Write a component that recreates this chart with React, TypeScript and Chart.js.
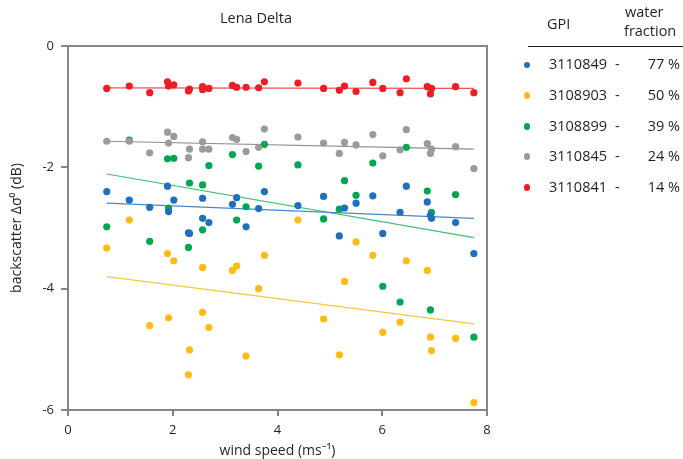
import React, { useEffect, useRef } from "react";
import { Chart, registerables } from "chart.js";

Chart.register(...registerables);

// wind speed (m/s) shared by all GPIs
const windSpeed = [0.74, 1.17, 1.56, 1.9, 1.92, 2.02, 2.3, 2.32, 2.57, 2.57, 2.69, 3.14, 3.22, 3.4, 3.64, 3.75, 4.39, 4.88, 5.18, 5.28, 5.5, 5.82, 6.01, 6.34, 6.46, 6.86, 6.92, 6.94, 7.4, 7.75];

const gpi3110849 = [-2.4, -2.54, -2.66, -2.31, -2.73, -2.54, -3.08, -3.09, -2.51, -2.84, -2.91, -2.61, -2.5, -2.98, -2.68, -2.4, -2.63, -2.48, -3.13, -2.67, -2.59, -2.47, -3.09, -2.74, -2.31, -2.57, -2.79, -2.84, -2.91, -3.42];
const gpi3108903 = [-3.33, -2.87, -4.61, -3.42, -4.48, -3.54, -5.42, -5.01, -3.65, -4.39, -4.64, -3.7, -3.63, -5.11, -4.0, -3.45, -2.87, -4.5, -5.09, -3.88, -3.23, -3.45, -4.72, -4.55, -3.54, -3.7, -4.8, -5.02, -4.82, -5.88];
const gpi3108899 = [-2.98, -1.55, -3.22, -1.86, -2.67, -1.85, -3.32, -2.26, -2.29, -3.03, -1.97, -1.79, -2.87, -2.65, -1.98, -1.62, -1.96, -2.85, -2.69, -2.22, -2.46, -1.93, -3.96, -4.22, -1.67, -2.39, -4.35, -2.74, -2.45, -4.8];
const gpi3110845 = [-1.57, -1.57, -1.76, -1.42, -1.6, -1.49, -1.84, -1.7, -1.58, -1.7, -1.7, -1.51, -1.54, -1.74, -1.67, -1.37, -1.5, -1.6, -1.77, -1.59, -1.63, -1.46, -1.81, -1.71, -1.38, -1.61, -1.77, -1.7, -1.66, -2.02];
const gpi3110841 = [-0.7, -0.66, -0.77, -0.59, -0.66, -0.64, -0.74, -0.71, -0.67, -0.72, -0.7, -0.65, -0.68, -0.68, -0.69, -0.59, -0.61, -0.7, -0.73, -0.66, -0.75, -0.6, -0.7, -0.77, -0.54, -0.67, -0.79, -0.7, -0.67, -0.77];

const gpiLabels = ["3110849", "3108903", "3108899", "3110845", "3110841"];
const waterFraction = ["77 %", "50 %", "39 %", "24 %", "14 %"];
const pointColors = ["#1f6fbf", "#fdbb14", "#00a650", "#9b9b9b", "#ee1d25"];
const lineColors = ["#4a87c8", "#f9c840", "#3cc070", "#8f8f8f", "#f05050"];
// regression line end values (at first and last wind speed)
const trendStart = [-2.59, -3.8, -2.11, -1.57, -0.69];
const trendEnd = [-2.84, -4.58, -3.16, -1.7, -0.7];

const xTicks = [0, 2, 4, 6, 8];
const yTicks = [0, -2, -4, -6];

const FONT = "'Open Sans', 'Noto Sans', sans-serif";
const TEXT = "#231f20";

export default function App() {
  const ref = useRef<HTMLCanvasElement | null>(null);

  useEffect(() => {
    if (!ref.current) return;
    const series = [gpi3110849, gpi3108903, gpi3108899, gpi3110845, gpi3110841];
    // draw order: first dataset on top
    const pointOrder = [4, 3, 0, 2, 1];
    const pointSets = pointOrder.map((i) => ({
      label: gpiLabels[i],
      data: windSpeed.map((x, k) => ({ x, y: series[i][k] })),
      backgroundColor: pointColors[i],
      borderColor: pointColors[i],
      borderWidth: 0,
      pointRadius: 3.6,
      showLine: false,
    }));
    const lineSets = [0, 1, 2, 3, 4].map((i) => ({
      label: gpiLabels[i] + " fit",
      data: [
        { x: windSpeed[0], y: trendStart[i] },
        { x: windSpeed[windSpeed.length - 1], y: trendEnd[i] },
      ],
      borderColor: lineColors[i],
      backgroundColor: lineColors[i],
      borderWidth: 1.2,
      pointRadius: 0,
      showLine: true,
    }));

    const framePlugin = {
      id: "frame",
      afterDraw(chart: any) {
        const { ctx, chartArea } = chart;
        ctx.save();
        ctx.strokeStyle = "#858585";
        ctx.lineWidth = 2;
        ctx.beginPath();
        ctx.moveTo(chartArea.left, chartArea.top);
        ctx.lineTo(chartArea.right, chartArea.top);
        ctx.lineTo(chartArea.right, chartArea.bottom);
        ctx.stroke();
        ctx.restore();
      },
    };

    const chart = new Chart(ref.current, {
      type: "scatter",
      data: { datasets: [...pointSets, ...lineSets] as any },
      options: {
        responsive: false,
        animation: false,
        layout: { padding: { left: 0, right: 683 - 487, top: 46, bottom: 0 } },
        plugins: {
          legend: { display: false },
          tooltip: { enabled: false },
        },
        scales: {
          x: {
            type: "linear",
            min: 0,
            max: 8,
            afterBuildTicks: (s: any) => {
              s.ticks = xTicks.map((v) => ({ value: v }));
            },
            afterFit: (s: any) => {
              s.height = 459 - 410;
            },
            ticks: { color: TEXT, font: { family: FONT, size: 13 }, padding: 6 },
            grid: { drawOnChartArea: false, drawTicks: true, tickLength: 6, color: "#858585", lineWidth: 2 },
            border: { display: true, color: "#858585", width: 2 },
            title: {
              display: true,
              text: "wind speed (ms\u207B\u00B9)",
              color: TEXT,
              font: { family: FONT, size: 14 },
              padding: { top: 0, bottom: 0 },
            },
          },
          y: {
            type: "linear",
            min: -6,
            max: 0,
            afterBuildTicks: (s: any) => {
              s.ticks = yTicks.map((v) => ({ value: v }));
            },
            afterFit: (s: any) => {
              s.width = 68;
            },
            ticks: { color: TEXT, font: { family: FONT, size: 13 }, padding: 7 },
            grid: { drawOnChartArea: false, drawTicks: true, tickLength: 7, color: "#858585", lineWidth: 2 },
            border: { display: true, color: "#858585", width: 2 },
            title: {
              display: true,
              text: "backscatter \u0394\u03C3\u2070 (dB)",
              color: TEXT,
              font: { family: FONT, size: 14 },
              padding: { top: 9, bottom: 0 },
            },
          },
        },
      } as any,
      plugins: [framePlugin],
    });
    return () => chart.destroy();
  }, []);

  const textBase: React.CSSProperties = {
    position: "absolute",
    fontFamily: FONT,
    fontSize: "14.5px",
    lineHeight: "20px",
    color: TEXT,
    whiteSpace: "nowrap",
  };
  const rowTops = [54.4, 84.6, 115.8, 146, 177];
  const dotCenters = [65, 95.3, 126.5, 156.7, 187.7];

  return (
    <div style={{ position: "absolute", left: 0, top: 0, width: 683, height: 459, background: "#fff" }}>
      <canvas ref={ref} width={683} height={459} style={{ position: "absolute", left: 0, top: 0, width: 683, height: 459 }} />
      <div style={{ ...textBase, left: 0, width: 512, top: 8, textAlign: "center", fontSize: "14.5px" }}>Lena Delta</div>
      <div style={{ ...textBase, left: 547, top: 14.4 }}>GPI</div>
      <div style={{ ...textBase, left: 625, top: 2.4 }}>water</div>
      <div style={{ ...textBase, left: 624, top: 21.4 }}>fraction</div>
      <div style={{ position: "absolute", left: 528, top: 45.5, width: 155, height: 1.2, background: "#231f20" }} />
      {gpiLabels.map((g, i) => (
        <React.Fragment key={g}>
          <div
            style={{
              position: "absolute",
              left: 527 - 3.3,
              top: dotCenters[i] - 3.3,
              width: 6.6,
              height: 6.6,
              borderRadius: "50%",
              background: pointColors[i],
            }}
          />
          <div style={{ ...textBase, left: 549, top: rowTops[i] }}>{g}</div>
          <div style={{ ...textBase, left: 615, top: rowTops[i] }}>-</div>
          <div style={{ ...textBase, right: 3, top: rowTops[i], textAlign: "right" }}>{waterFraction[i]}</div>
        </React.Fragment>
      ))}
    </div>
  );
}
